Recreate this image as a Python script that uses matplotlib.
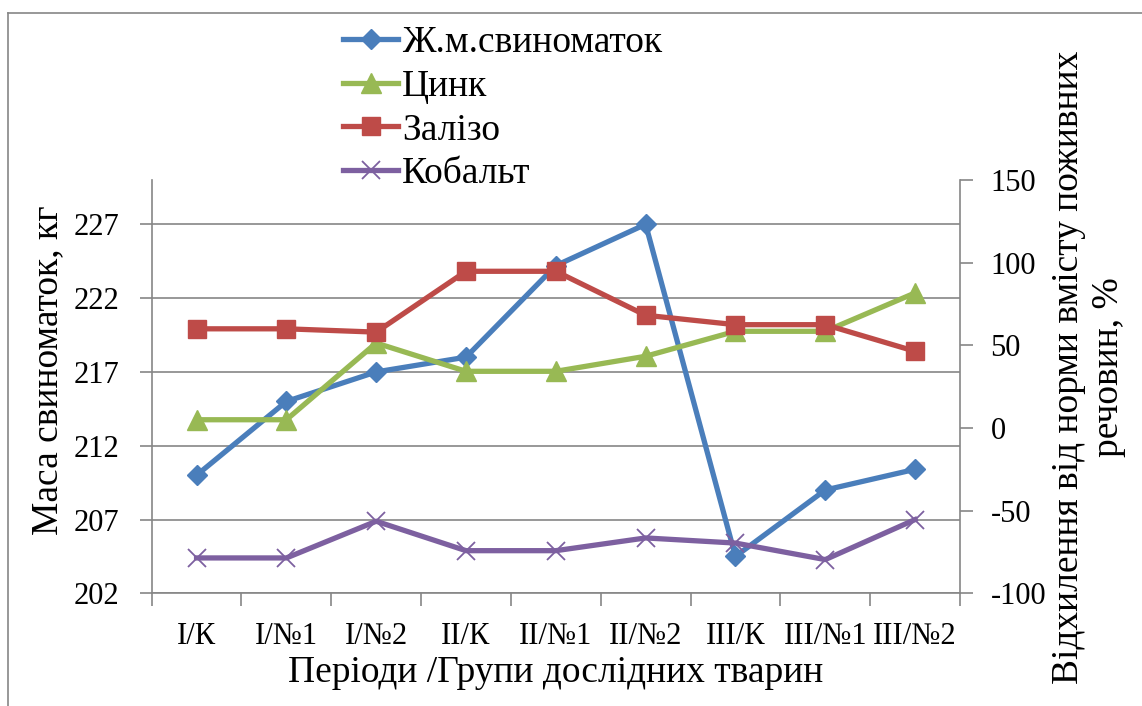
import matplotlib.pyplot as plt
from matplotlib.lines import Line2D

plt.rcParams['font.family'] = ['Liberation Serif', 'DejaVu Serif']
plt.rcParams['axes.unicode_minus'] = False

# periods / groups of animals
groups = ['I/К', 'I/№1', 'I/№2', 'II/К', 'II/№1', 'II/№2', 'III/К', 'III/№1', 'III/№2']
# live weight of sows, kg (left axis)
sow_mass = [210, 215, 217, 218, 224.2, 227, 204.5, 209, 210.4]
# deviation from the norm, % (right axis)
zinc = [5, 5, 51.4, 34.3, 34.3, 43.4, 58.5, 58.5, 81.7]
iron = [60, 60, 58, 94.8, 94.8, 68.2, 62.5, 62.5, 46.4]
cobalt = [-78.6, -78.6, -56.4, -74.2, -74.2, -66.5, -69.6, -79.6, -55.4]

left_ticks = [202, 207, 212, 217, 222, 227]
right_ticks = [-100, -50, 0, 50, 100, 150]

grey = '#868686'
x = list(range(len(groups)))

fig = plt.figure(figsize=(11.42, 7.06), dpi=100)
ax = fig.add_axes([0.1328, 0.1596, 0.7078, 0.5854])
ax2 = ax.twinx()

# chart border
fig.add_artist(Line2D([8 / 1142, 8 / 1142], [0, 1 - 13 / 706], transform=fig.transFigure, color=grey, lw=1.2))
fig.add_artist(Line2D([8 / 1142, 1], [1 - 13 / 706, 1 - 13 / 706], transform=fig.transFigure, color=grey, lw=1.2))

lw = 3.8
ax.plot(x, sow_mass, color='#4A7EBB', lw=lw, marker='D', ms=10.5, label='Ж.м.свиноматок', zorder=3)
ax2.plot(x, zinc, color='#98B954', lw=lw, marker='^', ms=14, label='Цинк', zorder=3)
ax2.plot(x, iron, color='#BE4B48', lw=lw, marker='s', ms=13, label='Залізо', zorder=3)
ax2.plot(x, cobalt, color='#7D60A0', lw=lw, marker='x', ms=13, mew=1.3, label='Кобальт', zorder=3)

ax.set_xlim(-0.5, len(groups) - 0.5)
ax.set_ylim(202, 230)
ax2.set_ylim(-100, 150)
ax.set_yticks(left_ticks)
ax2.set_yticks(right_ticks)
ax.set_xticks(x)
ax.set_xticklabels(groups)
ax.set_xticks([i - 0.5 for i in range(len(groups) + 1)], minor=True)

ax.grid(axis='y', color=grey, lw=1.2)
ax.set_axisbelow(True)

ax.tick_params(axis='x', which='major', length=0, pad=21, labelsize=22)
ax.tick_params(axis='x', which='minor', length=9, width=1.2, color=grey)
ax.tick_params(axis='y', length=9, width=1.2, color=grey, pad=14, labelsize=22)
ax2.tick_params(axis='y', length=9, width=1.2, color=grey, pad=13, labelsize=22)

for a in (ax, ax2):
    for s in a.spines.values():
        s.set_color(grey)
        s.set_linewidth(1.2)
    a.spines['top'].set_visible(False)
ax.spines['right'].set_visible(False)
ax2.spines['left'].set_visible(False)
ax2.spines['bottom'].set_visible(False)

ax.set_xlabel('Періоди /Групи дослідних тварин', fontsize=27, labelpad=3)
ax.set_ylabel('Маса свиноматок, кг', fontsize=27, labelpad=6)
ax.yaxis.label.set_y(0.540)
ax2.set_ylabel('Відхилення від норми вмісту поживних\nречовин, %', fontsize=27, labelpad=4, linespacing=1.2)
ax2.yaxis.label.set_y(0.548)

h1, l1 = ax.get_legend_handles_labels()
h2, l2 = ax2.get_legend_handles_labels()
fig.legend(h1 + h2, l1 + l2, loc='upper left', bbox_to_anchor=(343 / 1142, 1 - 26 / 706),
           frameon=False, fontsize=27, handlelength=1.47, handletextpad=0.1,
           labelspacing=0.24, borderpad=0, borderaxespad=0)

fig.savefig('out.png', dpi=100)
